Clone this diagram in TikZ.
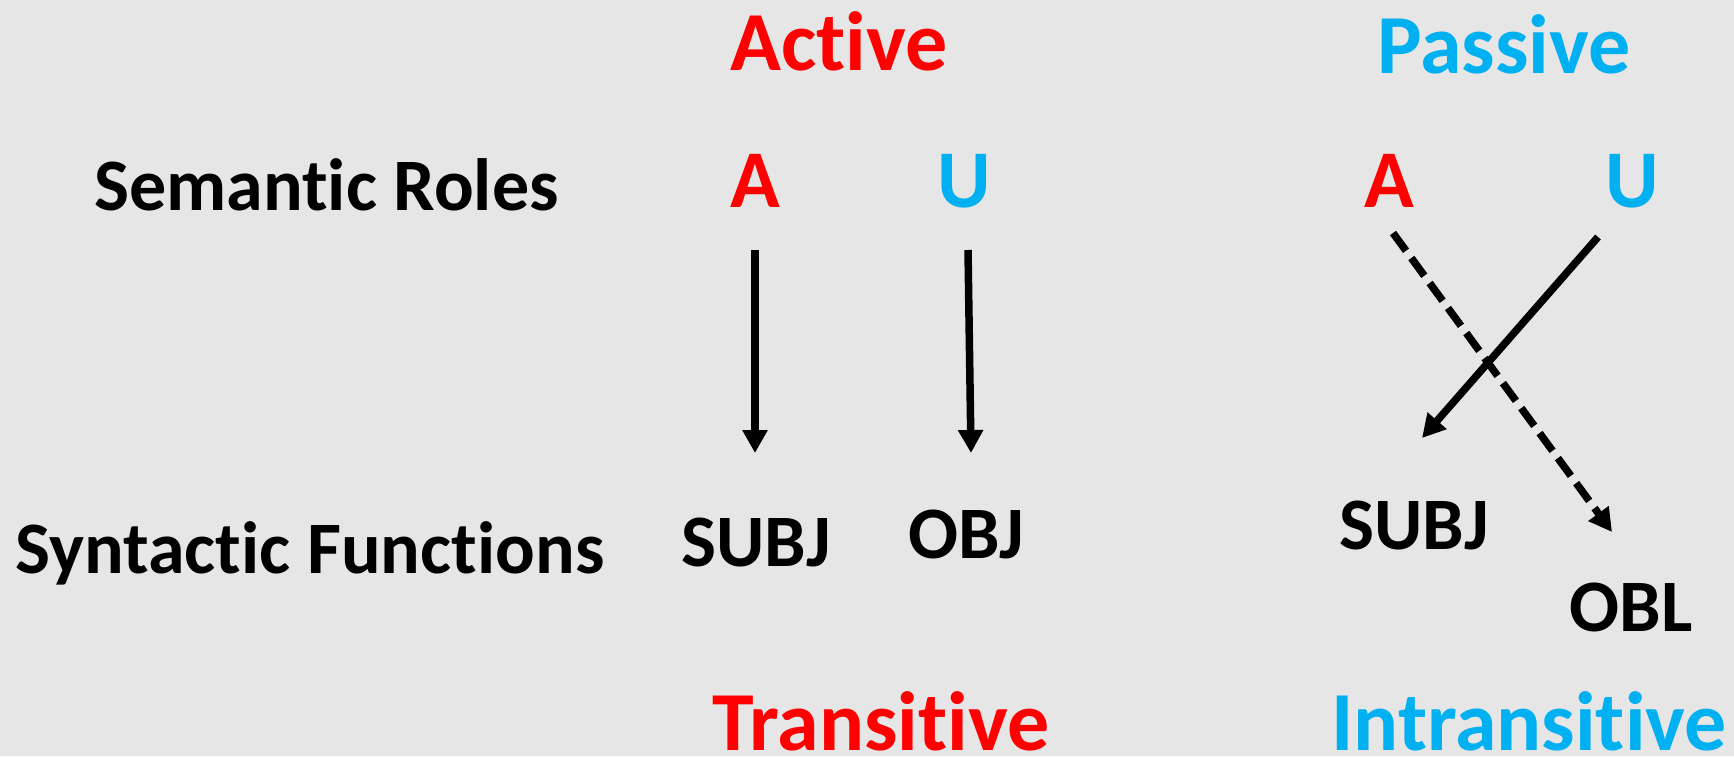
\documentclass[tikz,border=0pt]{standalone}
\usepackage{fontspec}
\setmainfont{Carlito}[Ligatures=NoCommon]
\usetikzlibrary{arrows.meta}
\definecolor{bgfill}{RGB}{231,230,230}
\definecolor{actred}{RGB}{255,0,0}
\definecolor{passblue}{RGB}{0,176,240}
\tikzset{
  lbl/.style={inner sep=0pt, anchor=base, font=\bfseries\fontsize{74}{88}\selectfont},
  lblw/.style={lbl, anchor=base west},
  role/.style={inner sep=0pt, anchor=base, font=\bfseries\fontsize{82}{96}\selectfont},
  title/.style={inner sep=0pt, anchor=base, font=\bfseries\fontsize{84}{100}\selectfont},
  link/.style={line width=7.5pt, -{Triangle[width=24pt,length=23pt]}},
  dlink/.style={link, dash pattern=on 22pt off 9pt}
}
\begin{document}
\begin{tikzpicture}[x=1pt,y=-1pt]
  \fill[bgfill] (0,0) rectangle (1734,756);
  \useasboundingbox (0,0) rectangle (1734,756);

  % headings
  \node[title, text=actred]   (active)  at (839,70)  {Active};
  \node[title, text=passblue] (passive) at (1504,73) {Passive};
  \node[title, text=actred]   (trans)   at (881,750) {Transitive};
  \node[title, text=passblue] (intrans) at (1529,750) {Intransitive};

  % row labels
  \node[lblw] (semroles) at (94,210) {Semantic Roles};
  \node[lblw] (synfun)   at (15,573) {Syntactic Functions};

  % semantic roles
  \node[role, text=actred]   (aA) at (755,207)  {A};
  \node[role, text=passblue] (aU) at (964,207)  {U};
  \node[role, text=actred]   (pA) at (1389,207) {A};
  \node[role, text=passblue] (pU) at (1632,207) {U};

  % syntactic functions
  \node[lbl] (aSUBJ) at (756,566)  {SUBJ};
  \node[lbl] (aOBJ)  at (966,558)  {OBJ};
  \node[lbl] (pSUBJ) at (1414,549) {SUBJ};
  \node[lbl] (pOBL)  at (1631,631) {OBL};

  % connector end points
  \coordinate (aAs) at (755,250);  \coordinate (aAe) at (755,453);
  \coordinate (aUs) at (968,250);  \coordinate (aUe) at (971,453);
  \coordinate (pUs) at (1598,237); \coordinate (pUe) at (1422,438);
  \coordinate (pAs) at (1393,233); \coordinate (pAe) at (1612,532);

  % mappings
  \draw[link]  (aAs) -- (aAe);
  \draw[link]  (aUs) -- (aUe);
  \draw[link]  (pUs) -- (pUe);
  \draw[dlink] (pAs) -- (pAe);
\end{tikzpicture}
\end{document}
